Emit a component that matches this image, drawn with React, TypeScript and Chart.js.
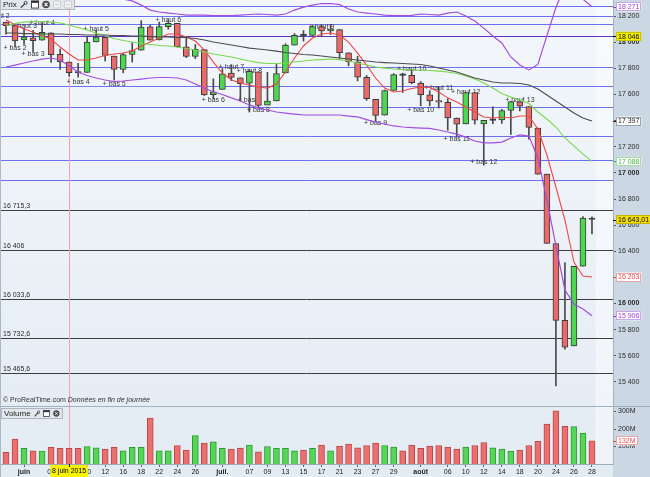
import React, { useEffect, useRef } from 'react';
import { Chart, registerables } from 'chart.js';

Chart.register(...registerables);

const FONT = '"Liberation Sans", Arial, Helvetica, sans-serif';

// ---------- data ----------
const dates = ['28 mai', '29 mai', '1 juin', '2 juin', '3 juin', '4 juin', '5 juin', '8 juin', '9 juin', '10 juin', '11 juin', '12 juin', '15 juin', '16 juin', '17 juin', '18 juin', '19 juin', '22 juin', '23 juin', '24 juin', '25 juin', '26 juin', '29 juin', '30 juin', '1 juil.', '2 juil.', '6 juil.', '7 juil.', '8 juil.', '9 juil.', '10 juil.', '13 juil.', '14 juil.', '15 juil.', '16 juil.', '17 juil.', '20 juil.', '21 juil.', '22 juil.', '23 juil.', '24 juil.', '27 juil.', '28 juil.', '29 juil.', '30 juil.', '31 juil.', '3 août', '4 août', '5 août', '6 août', '7 août', '10 août', '11 août', '12 août', '13 août', '14 août', '17 août', '18 août', '19 août', '20 août', '21 août', '24 août', '25 août', '26 août', '27 août', '28 août'];

const opens = [18154.14, 18128.12, 18017.82, 18033.33, 18016.06, 18072.40, 17906.38, 17848.38, 17765.24, 17768.50,
  18002.12, 18037.32, 17893.95, 17791.54, 17905.78, 17938.58, 18116.73, 18017.31, 18119.78, 18143.63,
  17965.57, 17890.85, 17942.70, 17598.20, 17638.12, 17763.76, 17726.81, 17686.99, 17772.72, 17519.11,
  17550.54, 17764.40, 17978.00, 18055.80, 18052.02, 18119.40, 18086.45, 18096.90, 17919.29, 17850.72,
  17731.92, 17563.20, 17442.08, 17630.75, 17749.54, 17746.84, 17687.65, 17596.72, 17553.15, 17540.52,
  17419.75, 17375.06, 17614.76, 17375.00, 17401.34, 17405.34, 17477.40, 17543.96, 17508.01, 17343.14,
  16990.69, 16459.75, 15871.28, 15676.26, 16285.51, 16643.01];

const highs = [18154.14, 18128.12, 18105.83, 18091.10, 18144.07, 18072.40, 17948.11, 17848.38, 17838.41, 18041.00,
  18093.42, 18037.32, 17893.95, 17917.00, 17997.19, 18165.00, 18130.45, 18154.75, 18168.24, 18144.00,
  18043.08, 17982.15, 17942.70, 17719.44, 17798.25, 17828.59, 17726.81, 17793.28, 17772.72, 17770.17,
  17830.00, 17987.86, 18066.32, 18089.63, 18128.15, 18137.12, 18137.12, 18096.90, 17919.29, 17891.69,
  17745.47, 17563.20, 17634.52, 17759.32, 17763.53, 17792.21, 17698.49, 17629.37, 17655.31, 17567.50,
  17419.75, 17615.17, 17614.76, 17401.23, 17505.62, 17486.05, 17546.76, 17543.96, 17508.01, 17343.14,
  16990.69, 16459.75, 16312.94, 16285.51, 16666.05, 16663.00];

const lows = [18061.18, 17967.74, 17982.25, 17925.80, 18016.06, 17844.76, 17792.11, 17740.99, 17733.31, 17768.50,
  18002.12, 17855.95, 17710.00, 17765.73, 17848.39, 17938.58, 18015.95, 18017.31, 18099.30, 17962.77,
  17882.58, 17874.62, 17592.00, 17568.00, 17638.12, 17705.62, 17547.34, 17465.65, 17496.40, 17519.11,
  17550.54, 17764.40, 17978.00, 18007.89, 18052.02, 18041.40, 18059.50, 17877.37, 17819.34, 17704.33,
  17555.34, 17399.17, 17442.08, 17630.75, 17614.55, 17681.88, 17513.00, 17512.41, 17496.10, 17325.72,
  17277.09, 17375.06, 17373.64, 17058.81, 17375.74, 17378.23, 17293.56, 17474.20, 17258.56, 16988.63,
  16459.75, 15370.33, 15651.24, 15676.26, 16285.51, 16532.00];

const closes = [18126.12, 18010.68, 18040.37, 18011.94, 18076.27, 17905.58, 17849.46, 17766.55, 17764.04, 18000.40,
  18039.37, 17898.84, 17791.17, 17904.48, 17935.74, 18115.84, 18015.95, 18119.78, 18144.07, 17966.07,
  17890.36, 17946.68, 17596.35, 17619.51, 17757.91, 17730.11, 17683.58, 17776.91, 17515.42, 17548.62,
  17760.41, 17977.68, 18053.58, 18050.17, 18120.25, 18086.45, 18100.41, 17919.29, 17851.04, 17731.92,
  17568.53, 17440.59, 17630.27, 17751.39, 17745.98, 17689.86, 17598.20, 17550.69, 17540.47, 17419.75,
  17373.38, 17615.17, 17402.84, 17402.51, 17408.25, 17477.40, 17545.18, 17511.34, 17348.73, 16990.69,
  16459.75, 15871.35, 15666.44, 16285.51, 16654.77, 16643.01];

// volume in millions
const volumes = [67, 142, 89, 76, 74, 95, 90, 89, 90, 99,
  93, 86, 95, 76, 95, 95, 263, 76, 76, 106,
  80, 162, 119, 127, 89, 86, 91, 108, 69, 100,
  89, 89, 76, 80, 89, 108, 76, 102, 114, 93,
  106, 119, 106, 97, 76, 108, 89, 102, 106, 97,
  86, 97, 106, 123, 93, 86, 74, 80, 106, 130,
  229, 304, 216, 214, 177, 132];

// short moving average (red)
const maShort = [18170, 18135, 18101, 18078, 18047, 18024, 17963, 17910, 17864, 17864,
  17879, 17898, 17910, 17917, 17932, 17971, 18001, 18032, 18063, 18063,
  18040, 18009, 17940, 17848, 17764, 17711, 17688, 17672, 17657, 17649,
  17680, 17772, 17879, 17971, 18032, 18063, 18070, 18055, 18001, 17917,
  17825, 17726, 17649, 17619, 17626, 17646, 17657, 17653, 17619, 17574,
  17543, 17504, 17466, 17428, 17420, 17428, 17420, 17435, 17435, 17336,
  17137, 16892, 16639, 16318, 16211, 16203];

// Bollinger middle (green)
const bbMid = [18124, 18143, 18154, 18158, 18158, 18154, 18147, 18131, 18112, 18093,
  18070, 18047, 18028, 18013, 18001, 17990, 17982, 17975, 17971, 17963,
  17952, 17940, 17925, 17910, 17898, 17887, 17871, 17856, 17844, 17837,
  17837, 17841, 17848, 17856, 17864, 17867, 17871, 17867, 17856, 17841,
  17825, 17810, 17802, 17795, 17791, 17787, 17787, 17783, 17779, 17772,
  17760, 17741, 17718, 17688, 17649, 17607, 17581, 17558, 17531, 17466,
  17412, 17351, 17267, 17206, 17144, 17088];

// Bollinger upper / lower (purple)
const bbUpper = [18440, 18460, 18465, 18460, 18445, 18430, 18430, 18445, 18450, 18440,
  18415, 18385, 18355, 18330, 18316, 18284, 18246, 18231, 18223, 18216,
  18208, 18208, 18208, 18204, 18203, 18204, 18208, 18212, 18216, 18212,
  18208, 18216, 18246, 18269, 18284, 18296, 18296, 18288, 18254, 18231,
  18223, 18216, 18208, 18204, 18203, 18206, 18216, 18212, 18208, 18223,
  18231, 18200, 18162, 18108, 18047, 17994, 17887, 17826, 17788, 17830,
  18050, 18265, 18430, 18415, 18329, 18271];

const bbLower = [17810, 17825, 17841, 17856, 17871, 17879, 17864, 17818, 17772, 17745,
  17726, 17711, 17699, 17703, 17711, 17718, 17726, 17730, 17730, 17726,
  17711, 17680, 17649, 17619, 17600, 17574, 17550, 17520, 17496, 17481,
  17466, 17458, 17450, 17443, 17443, 17443, 17443, 17443, 17435, 17428,
  17408, 17389, 17374, 17359, 17351, 17347, 17343, 17340, 17328, 17313,
  17297, 17274, 17244, 17229, 17229, 17236, 17267, 17290, 17282, 17114,
  16793, 16441, 16104, 15997, 15959, 15906];

// long moving average (dark grey)
const maLong = [18070, 18070, 18066, 18066, 18063, 18063, 18063, 18059, 18059, 18055,
  18055, 18055, 18051, 18051, 18047, 18047, 18043, 18040, 18040, 18036,
  18036, 18028, 18017, 18001, 17990, 17978, 17967, 17955, 17948, 17940,
  17932, 17921, 17913, 17906, 17902, 17894, 17887, 17879, 17871, 17864,
  17856, 17848, 17844, 17841, 17837, 17833, 17829, 17818, 17802, 17787,
  17772, 17749, 17726, 17711, 17695, 17688, 17688, 17684, 17672, 17642,
  17596, 17550, 17504, 17458, 17420, 17397];

// horizontal levels
const blueLevels = [18279, 18200, 18137, 18046, 17808, 17665, 17506, 17282, 17095, 16946];
const markedLevel = 18046;
const blackLevels = [16715.3, 16406, 16033.6, 15732.6, 15465.6];

// axis ticks
const priceTicks = [15400, 15600, 15800, 16000, 16200, 16400, 16600, 16800, 17000, 17200, 17400, 17600, 17800, 18000, 18200];
const volumeTicks = [100, 200, 300];
const xTickIdx = [2, 5, 7, 9, 11, 13, 15, 17, 19, 21, 24, 27, 29, 31, 33, 35, 37, 39, 41, 43, 46, 49, 51, 53, 55, 57, 59, 61, 63, 65];
const xTickText = ['juin', '04', '08', '10', '12', '16', '18', '22', '24', '26', 'juil.', '07', '09', '13', '15', '17', '21', '23', '27', '29', 'août', '06', '10', '12', '14', '18', '20', '24', '26', '28'];

// swing annotations
const annText = ['+ haut 2', '+ haut 3', '+ haut 4', '+ bas 2', '+ bas 3', '+ bas 4', '+ haut 5', '+ bas 5', '+ haut 6', '+ bas 6', '+ haut 7', '+ haut 8', '+ bas 7', '+ bas 8', '+ haut 9', '+ bas 9', '+ haut 10', '+ bas 10', '+ haut 11', '+ haut 12', '+ bas 11', '+ bas 12', '+ haut 13'];
const annIdx = [-1, 2, 4, 1, 3, 8, 10, 12, 18, 23, 25, 27, 27, 28, 35, 41, 45, 46, 48, 51, 50, 53, 57];
const annPrice = [18200, 18124, 18147, 17955, 17910, 17695, 18097, 17680, 18170, 17558, 17810, 17779, 17558, 17481, 18116, 17382, 17795, 17481, 17649, 17619, 17259, 17083, 17558];

const cursorIdx = 7;
const cursorLabel = '8 juin 2015';

// ---------- layout / style constants ----------
const X_MIN = -0.667;
const X_MAX = 67.333;
const PRICE_MIN = 15216;
const PRICE_MAX = 18323;
const VOL_MAX = 326;
const AXIS_W = 37;

const RED = '#ea6a6a';
const GREEN = '#4fd64f';
const PURPLE = '#a24ee0';

function fmtNum(v: number, dec = 0): string {
  const fixed = Math.abs(v).toFixed(dec);
  const parts = fixed.split('.');
  const grouped = parts[0].replace(/\B(?=(\d{3})+(?!\d))/g, ' ');
  return (v < 0 ? '-' : '') + grouped + (parts[1] ? ',' + parts[1] : '');
}

function drawTag(ctx: any, area: any, py: number, text: string, color: string, bg: string, border: string) {
  ctx.font = `7px ${FONT}`;
  const w = ctx.measureText(text).width + 4;
  const x0 = area.right + 3;
  const h = 9;
  ctx.fillStyle = bg;
  ctx.fillRect(x0, py - h / 2, w, h);
  ctx.strokeStyle = border;
  ctx.lineWidth = 1;
  ctx.strokeRect(Math.round(x0) + 0.5, Math.round(py - h / 2) + 0.5, Math.round(w) - 1, h - 1);
  ctx.strokeStyle = color;
  ctx.beginPath();
  ctx.moveTo(area.right, Math.round(py) + 0.5);
  ctx.lineTo(area.right + 3, Math.round(py) + 0.5);
  ctx.stroke();
  ctx.fillStyle = color;
  ctx.textAlign = 'left';
  ctx.textBaseline = 'middle';
  ctx.fillText(text, x0 + 2, py + 0.5);
}

const last = dates.length - 1;

const priceTags = [
  { value: bbUpper[last], text: fmtNum(bbUpper[last]), color: '#9a3ad6', bg: '#ffffff', border: '#c9a6e4' },
  { value: markedLevel, text: fmtNum(markedLevel), color: '#000000', bg: '#f3ef00', border: '#c8c400' },
  { value: maLong[last], text: fmtNum(maLong[last]), color: '#222222', bg: '#ffffff', border: '#9aa4ad' },
  { value: bbMid[last], text: fmtNum(bbMid[last]), color: '#3cb83c', bg: '#ffffff', border: '#a6d8a6' },
  { value: closes[last], text: fmtNum(closes[last], 2), color: '#000000', bg: '#f5e000', border: '#c8b400' },
  { value: maShort[last], text: fmtNum(maShort[last]), color: '#e84444', bg: '#ffffff', border: '#eaa6a6' },
  { value: bbLower[last], text: fmtNum(bbLower[last]), color: '#9a3ad6', bg: '#ffffff', border: '#c9a6e4' },
];

const pricePlugin = {
  id: 'priceDecor',
  beforeDatasetsDraw(chart: any) {
    const { ctx, chartArea: a, scales } = chart;
    const x = scales.x;
    const y = scales.y;
    ctx.save();
    // lighter area after the last session
    const fx = x.getPixelForValue(last + 0.4);
    ctx.fillStyle = 'rgba(255,255,255,0.45)';
    ctx.fillRect(fx, a.top, a.right - fx, a.bottom - a.top);
    ctx.lineWidth = 1;
    blueLevels.forEach((v) => {
      const py = Math.round(y.getPixelForValue(v)) + 0.5;
      ctx.strokeStyle = v === markedLevel ? '#5a34c8' : '#6d6ff0';
      ctx.beginPath();
      ctx.moveTo(a.left, py);
      ctx.lineTo(a.right, py);
      ctx.stroke();
    });
    ctx.font = `7px ${FONT}`;
    ctx.textAlign = 'left';
    ctx.textBaseline = 'bottom';
    blackLevels.forEach((v) => {
      const py = Math.round(y.getPixelForValue(v)) + 0.5;
      ctx.strokeStyle = '#3e3e3e';
      ctx.beginPath();
      ctx.moveTo(a.left, py);
      ctx.lineTo(a.right, py);
      ctx.stroke();
      ctx.fillStyle = '#2a2a2a';
      ctx.fillText(fmtNum(v, v % 1 === 0 ? 0 : 1), a.left + 3, py - 1);
    });
    // cursor line
    const cx = Math.round(x.getPixelForValue(cursorIdx)) + 0.5;
    ctx.strokeStyle = '#f2a4a4';
    ctx.beginPath();
    ctx.moveTo(cx, a.top);
    ctx.lineTo(cx, a.bottom);
    ctx.stroke();
    // swing labels
    ctx.fillStyle = '#333333';
    ctx.textAlign = 'center';
    ctx.textBaseline = 'middle';
    annText.forEach((t, k) => {
      ctx.fillText(t, x.getPixelForValue(annIdx[k]), y.getPixelForValue(annPrice[k]));
    });
    ctx.restore();
  },
  afterDraw(chart: any) {
    const { ctx, chartArea: a, scales } = chart;
    ctx.save();
    priceTags.forEach((t) => {
      drawTag(ctx, a, scales.y.getPixelForValue(t.value), t.text, t.color, t.bg, t.border);
    });
    ctx.restore();
  },
};

const volPlugin = {
  id: 'volDecor',
  beforeDatasetsDraw(chart: any) {
    const { ctx, chartArea: a, scales } = chart;
    const x = scales.x;
    ctx.save();
    const fx = x.getPixelForValue(last + 0.4);
    ctx.fillStyle = 'rgba(255,255,255,0.45)';
    ctx.fillRect(fx, a.top, a.right - fx, a.bottom - a.top);
    const cx = Math.round(x.getPixelForValue(cursorIdx)) + 0.5;
    ctx.strokeStyle = '#f2a4a4';
    ctx.lineWidth = 1;
    ctx.beginPath();
    ctx.moveTo(cx, a.top);
    ctx.lineTo(cx, a.bottom);
    ctx.stroke();
    ctx.restore();
  },
  afterDraw(chart: any) {
    const { ctx, chartArea: a, scales } = chart;
    const x = scales.x;
    ctx.save();
    drawTag(ctx, a, scales.y.getPixelForValue(volumes[last]), `${volumes[last]}M`, '#e85050', '#ffffff', '#eaa6a6');
    // date cursor label
    const cx = x.getPixelForValue(cursorIdx);
    ctx.font = `7px ${FONT}`;
    const w = ctx.measureText(cursorLabel).width + 3;
    ctx.fillStyle = '#f6f200';
    ctx.fillRect(cx - w / 2, a.bottom + 1, w, 12);
    ctx.strokeStyle = '#111';
    ctx.beginPath();
    ctx.moveTo(Math.round(cx) + 0.5, a.bottom);
    ctx.lineTo(Math.round(cx) + 0.5, a.bottom + 3);
    ctx.stroke();
    ctx.fillStyle = '#000';
    ctx.textAlign = 'center';
    ctx.textBaseline = 'middle';
    ctx.fillText(cursorLabel, cx, a.bottom + 7.5);
    ctx.restore();
  },
};

const Wrench = () => (
  <svg width="9" height="9" viewBox="0 0 9 9" style={{ display: 'block' }}>
    <line x1="1.4" y1="7.6" x2="5.2" y2="3.8" stroke="#444" strokeWidth="1.5" strokeLinecap="round" />
    <circle cx="6.3" cy="2.7" r="1.7" fill="none" stroke="#444" strokeWidth="1.1" />
  </svg>
);
const WindowIcon = () => (
  <svg width="9" height="9" viewBox="0 0 9 9" style={{ display: 'block' }}>
    <rect x="0.5" y="0.5" width="8" height="8" fill="#fff" stroke="#333" />
    <rect x="0.5" y="0.5" width="8" height="2.2" fill="#333" />
  </svg>
);
const CloseIcon = () => (
  <svg width="9" height="9" viewBox="0 0 9 9" style={{ display: 'block' }}>
    <circle cx="4.5" cy="4.5" r="4.2" fill="#4a4a4a" />
    <line x1="2.8" y1="2.8" x2="6.2" y2="6.2" stroke="#fff" strokeWidth="1.2" />
    <line x1="6.2" y1="2.8" x2="2.8" y2="6.2" stroke="#fff" strokeWidth="1.2" />
  </svg>
);
const FadedIcon = () => (
  <svg width="9" height="9" viewBox="0 0 9 9" style={{ display: 'block' }}>
    <rect x="0.5" y="0.5" width="8" height="8" rx="1" fill="#eef0f2" stroke="#c4c8cc" />
    <line x1="2.5" y1="4.5" x2="6.5" y2="4.5" stroke="#c4c8cc" />
  </svg>
);

export default function App() {
  const priceRef = useRef<HTMLCanvasElement>(null);
  const volRef = useRef<HTMLCanvasElement>(null);

  useEffect(() => {
    const idx = dates.map((_, i) => i);
    const isDoji = (i: number) => Math.abs(closes[i] - opens[i]) < 8;
    const bodyColors = idx.map((i) => (isDoji(i) ? '#333333' : closes[i] > opens[i] ? GREEN : RED));
    const volUp = idx.map((i) => (i === 0 ? closes[0] >= opens[0] : closes[i] >= closes[i - 1]));
    const line = (label: string, values: number[], color: string, width: number) => ({
      type: 'line' as const,
      label,
      data: idx.map((i) => ({ x: i, y: values[i] })),
      borderColor: color,
      borderWidth: width,
      pointRadius: 0,
      tension: 0,
      order: 1,
    });

    const priceChart = new Chart(priceRef.current as HTMLCanvasElement, {
      type: 'bar',
      data: {
        datasets: [
          line('Moyenne longue', maLong, '#4c4c4c', 1.1),
          line('Bollinger moyenne', bbMid, '#78d84e', 1.1),
          line('Bollinger haute', bbUpper, PURPLE, 1.2),
          line('Bollinger basse', bbLower, PURPLE, 1.2),
          line('Moyenne courte', maShort, '#f04646', 1.1),
          {
            type: 'bar',
            label: 'Corps',
            data: idx.map((i) => ({ x: i, y: [opens[i], closes[i]] })),
            backgroundColor: bodyColors,
            borderColor: '#3a3a3a',
            borderWidth: 1,
            borderSkipped: false,
            barThickness: 6,
            grouped: false,
            minBarLength: 1.5,
            order: 5,
          },
          {
            type: 'bar',
            label: 'Mèches',
            data: idx.map((i) => ({ x: i, y: [lows[i], highs[i]] })),
            backgroundColor: '#4a4a4a',
            borderWidth: 0,
            barThickness: 1,
            grouped: false,
            order: 6,
          },
        ] as any,
      },
      options: {
        responsive: false,
        maintainAspectRatio: false,
        animation: false,
        events: [],
        layout: { padding: 0 },
        plugins: { legend: { display: false }, tooltip: { enabled: false } },
        scales: {
          x: { type: 'linear', min: X_MIN, max: X_MAX, display: false, offset: false, grid: { offset: false } },
          y: {
            type: 'linear',
            position: 'right',
            min: PRICE_MIN,
            max: PRICE_MAX,
            afterBuildTicks: (s: any) => { s.ticks = priceTicks.map((v) => ({ value: v })); },
            afterFit: (s: any) => { s.width = AXIS_W; s.paddingTop = 0; s.paddingBottom = 0; },
            ticks: {
              padding: 2,
              color: '#2a2a2a',
              font: (c: any) => ({ family: FONT, size: 7, weight: c.tick && c.tick.value % 1000 === 0 ? 'bold' : 'normal' }),
              callback: (v: any) => fmtNum(Number(v)),
            },
            grid: { drawOnChartArea: false, drawTicks: true, tickLength: 3, color: '#555' },
            border: { display: true, color: '#a3b5c4' },
          },
        },
      } as any,
      plugins: [pricePlugin],
    });

    const volChart = new Chart(volRef.current as HTMLCanvasElement, {
      type: 'bar',
      data: {
        datasets: [
          {
            label: 'Volume',
            data: idx.map((i) => ({ x: i, y: volumes[i] })),
            backgroundColor: idx.map((i) => (volUp[i] ? '#56d656' : '#ec6f6f')),
            borderColor: idx.map((i) => (volUp[i] ? '#2f9a2f' : '#b94848')),
            borderWidth: 1,
            barThickness: 6,
            grouped: false,
          },
        ] as any,
      },
      options: {
        responsive: false,
        maintainAspectRatio: false,
        animation: false,
        events: [],
        layout: { padding: 0 },
        plugins: { legend: { display: false }, tooltip: { enabled: false } },
        scales: {
          x: {
            type: 'linear',
            min: X_MIN,
            max: X_MAX,
            offset: false,
            position: 'bottom',
            afterBuildTicks: (s: any) => { s.ticks = xTickIdx.map((v) => ({ value: v })); },
            afterFit: (s: any) => { s.height = 13; s.paddingLeft = 0; s.paddingRight = 0; },
            ticks: {
              autoSkip: false,
              maxRotation: 0,
              minRotation: 0,
              padding: 1,
              color: '#1e1e1e',
              font: (c: any) => {
                const k = c.index;
                const t = xTickText[k] || '';
                return { family: FONT, size: 7, weight: isNaN(Number(t)) ? 'bold' : 'normal' };
              },
              callback: (_v: any, k: number) => xTickText[k],
            },
            grid: { drawOnChartArea: false, tickLength: 3, color: '#666', offset: false },
            border: { display: true, color: '#9aabba' },
          },
          y: {
            type: 'linear',
            position: 'right',
            min: 0,
            max: VOL_MAX,
            afterBuildTicks: (s: any) => { s.ticks = volumeTicks.map((v) => ({ value: v })); },
            afterFit: (s: any) => { s.width = AXIS_W; s.paddingTop = 0; s.paddingBottom = 0; },
            ticks: {
              padding: 2,
              color: '#2a2a2a',
              font: { family: FONT, size: 7 },
              callback: (v: any) => `${v}M`,
            },
            grid: { drawOnChartArea: false, tickLength: 3, color: '#555' },
            border: { display: true, color: '#a3b5c4' },
          },
        },
      } as any,
      plugins: [volPlugin],
    });

    return () => {
      priceChart.destroy();
      volChart.destroy();
    };
  }, []);

  const toolbar: React.CSSProperties = {
    position: 'absolute',
    display: 'flex',
    alignItems: 'center',
    gap: 3,
    background: 'rgba(226,231,236,0.95)',
    border: '1px solid #aeb7c0',
    fontFamily: FONT,
    fontSize: 8,
    color: '#222',
    padding: '0 2px',
    boxSizing: 'border-box',
    height: 11,
  };

  return (
    <div style={{ position: 'fixed', left: 0, top: 0, width: 650, height: 477, overflow: 'hidden', background: 'linear-gradient(#f3f7fb, #e3ebf3)', fontFamily: FONT }}>
      <div style={{ position: 'absolute', left: 613, top: 0, width: 37, height: 477, background: '#cbd8e3' }} />
      <canvas ref={priceRef} width={650} height={406} style={{ position: 'absolute', left: 0, top: 0, width: 650, height: 406 }} />
      <div style={{ position: 'absolute', left: 0, top: 406, width: 650, height: 1, background: '#9fb1c1' }} />
      <canvas ref={volRef} width={650} height={70} style={{ position: 'absolute', left: 0, top: 407, width: 650, height: 70 }} />
      <div style={{ position: 'absolute', left: 0, top: 0, width: 1, height: 477, background: '#a9b9c8' }} />
      <div style={{ ...toolbar, left: 0, top: -1, width: 75 }}>
        <span>Prix</span>
        <Wrench />
        <WindowIcon />
        <CloseIcon />
        <FadedIcon />
        <FadedIcon />
      </div>
      <div style={{ position: 'absolute', left: 3, top: 396, fontSize: 7, color: '#333', whiteSpace: 'nowrap' }}>
        © ProRealTime.com <i>Données en fin de journée</i>
      </div>
      <div style={{ ...toolbar, left: 1, top: 408, width: 62 }}>
        <span>Volume</span>
        <Wrench />
        <WindowIcon />
        <CloseIcon />
      </div>
    </div>
  );
}
